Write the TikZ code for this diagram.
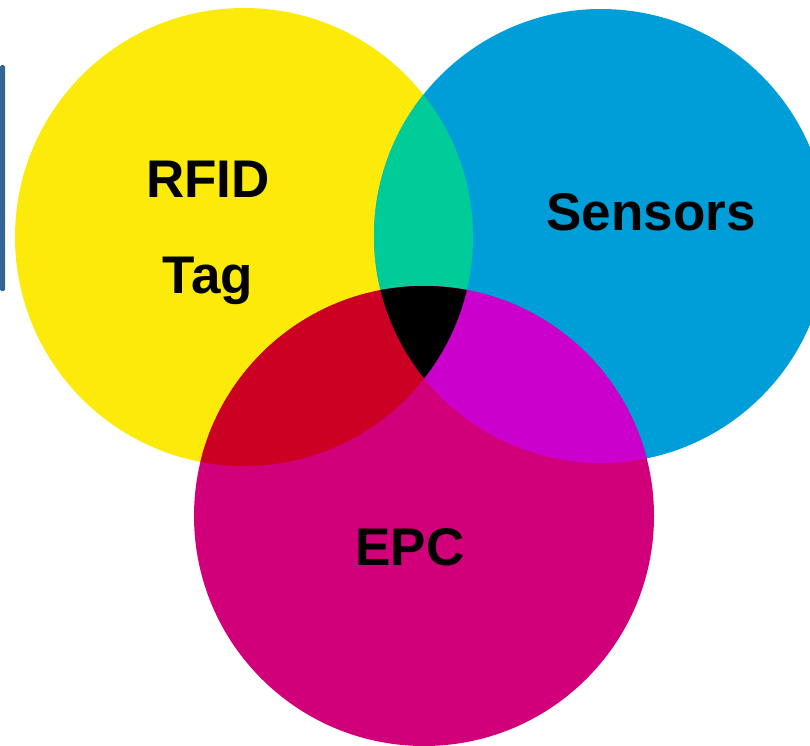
\documentclass[tikz,border=0pt]{standalone}
\usepackage{fontspec}
\setmainfont{Liberation Sans}
\begin{document}
\begin{tikzpicture}[x=1pt,y=-1pt,
  lbl/.style={anchor=base,font=\fontsize{53}{60}\selectfont\bfseries,text=black,inner sep=0pt}]
\definecolor{cyel}{RGB}{252,235,10}
\definecolor{cblu}{RGB}{0,158,216}
\definecolor{cmag}{RGB}{209,0,122}
\definecolor{cgrn}{RGB}{0,204,153}
\definecolor{cred}{RGB}{204,0,34}
\definecolor{cpur}{RGB}{204,0,204}
\definecolor{cbar}{RGB}{50,100,150}
\useasboundingbox (0,0) rectangle (810,745);
\def\yelc{(244,237) circle[radius=229pt]}
\def\bluc{(601,236) circle[radius=227pt]}
\def\magc{(424,516) circle[radius=230pt]}
\fill[cyel] \yelc;
\fill[cblu] \bluc;
\fill[cmag] \magc;
\begin{scope}
  \clip \yelc;
  \fill[cgrn] \bluc;
  \fill[cred] \magc;
\end{scope}
\begin{scope}
  \clip \bluc;
  \fill[cpur] \magc;
\end{scope}
\begin{scope}
  \clip \yelc;
  \clip \bluc;
  \fill[black] \magc;
\end{scope}
\fill[cbar, rounded corners=1.5pt] (0,65) rectangle (5,291);
\node[lbl] (rfid) at (208,197) {RFID};
\node[lbl] (tag) at (208,293) {Tag};
\node[lbl] (sens) at (651,230) {Sensors};
\node[lbl] (epc) at (410,565) {EPC};
\end{tikzpicture}
\end{document}
